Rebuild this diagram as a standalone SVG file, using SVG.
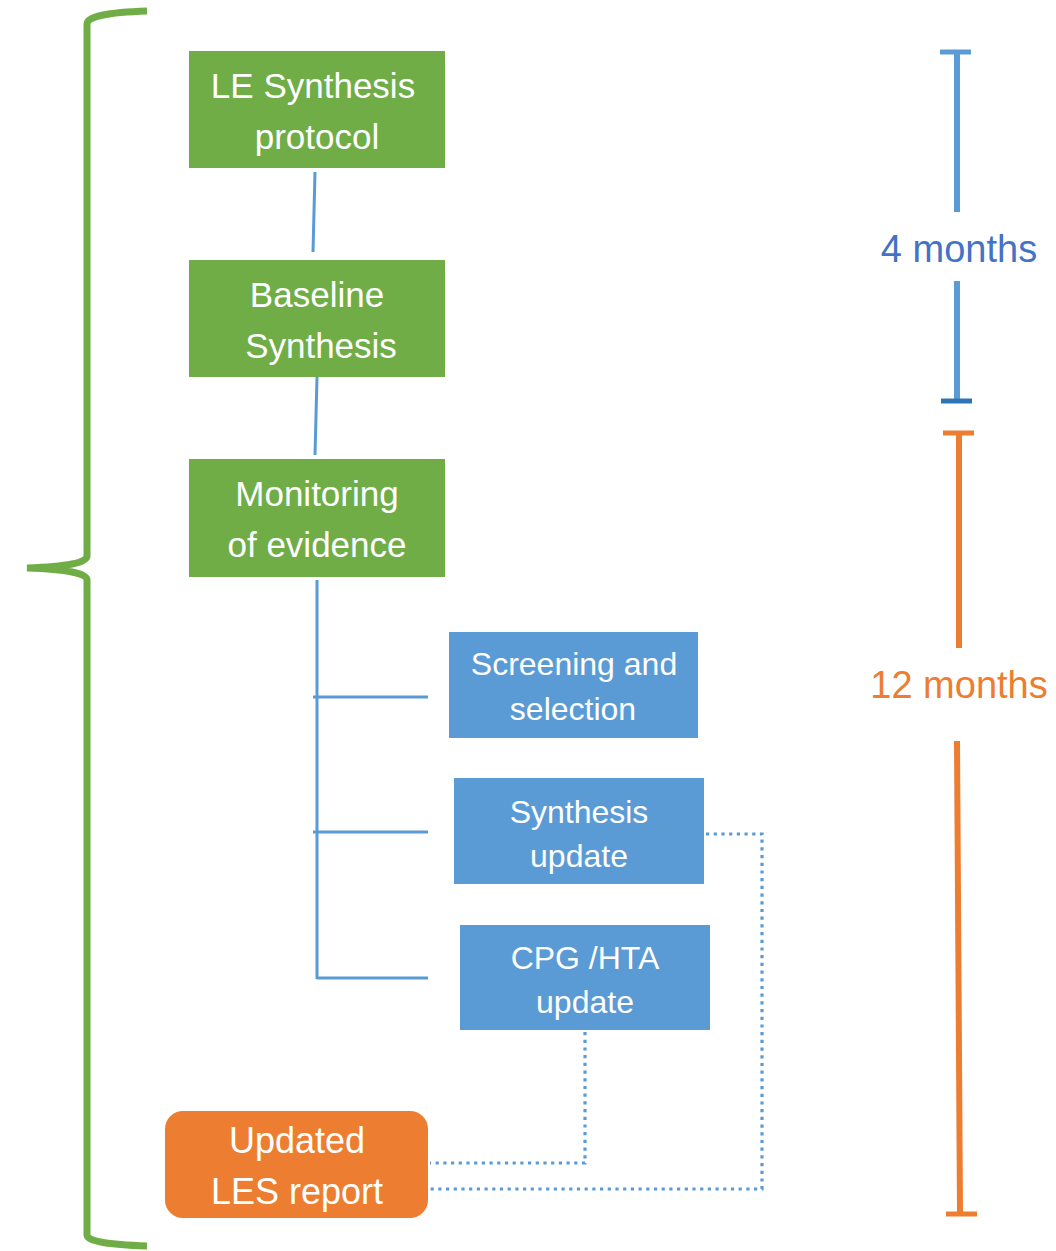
<svg xmlns="http://www.w3.org/2000/svg" width="1056" height="1251" viewBox="0 0 1056 1251">
<style>
.g{fill:#70AD47}
.b{fill:#5B9BD5}
.o{fill:#ED7D31}
.t{font-family:"Liberation Sans",Arial,sans-serif;fill:#fff;text-anchor:middle}
.tg{font-size:35px}
.tb{font-size:32px}
.to{font-size:36px}
.m{font-family:"Liberation Sans",Arial,sans-serif;font-size:38px;text-anchor:middle}
.c{stroke:#5B9BD5;stroke-width:3;fill:none}
.d{stroke:#5B9BD5;stroke-width:3.2;fill:none;stroke-dasharray:3.2 4.5}
</style>
<rect width="1056" height="1251" fill="#fff"/>
<g id="brace">
<path d="M147,11 Q87,13 87,24 L87,556 Q87,566 27,568 Q87,570 87,580 L87,1235 Q87,1244 147,1246" fill="none" stroke="#70AD47" stroke-width="7"/>
</g>
<g id="connectors">
<line class="c" x1="315" y1="172" x2="313" y2="252"/>
<line class="c" x1="317" y1="377" x2="315" y2="455"/>
<line class="c" x1="317" y1="580" x2="317" y2="979"/>
<line class="c" x1="313" y1="697" x2="428" y2="697"/>
<line class="c" x1="313" y1="832" x2="428" y2="832"/>
<line class="c" x1="317" y1="978" x2="428" y2="978"/>
<polyline class="d" points="706,834 762,834 762,1189 430,1189"/>
<polyline class="d" points="585,1032 585,1163 430,1163"/>
</g>
<g id="le-protocol">
<rect class="g" x="189" y="51" width="256" height="117"/>
<text class="t tg" x="313" y="98">LE Synthesis</text>
<text class="t tg" x="317" y="149">protocol</text>
</g>
<g id="baseline">
<rect class="g" x="189" y="260" width="256" height="117"/>
<text class="t tg" x="317" y="307">Baseline</text>
<text class="t tg" x="321" y="358">Synthesis</text>
</g>
<g id="monitoring">
<rect class="g" x="189" y="459" width="256" height="118"/>
<text class="t tg" x="317" y="506">Monitoring</text>
<text class="t tg" x="317" y="557">of evidence</text>
</g>
<g id="screening">
<rect class="b" x="449" y="632" width="249" height="106"/>
<text class="t tb" x="574" y="675">Screening and</text>
<text class="t tb" x="573" y="720">selection</text>
</g>
<g id="synthesis-update">
<rect class="b" x="454" y="778" width="250" height="106"/>
<text class="t tb" x="579" y="823">Synthesis</text>
<text class="t tb" x="579" y="867">update</text>
</g>
<g id="cpg-update">
<rect class="b" x="460" y="925" width="250" height="105"/>
<text class="t tb" x="585" y="969">CPG /HTA</text>
<text class="t tb" x="585" y="1013">update</text>
</g>
<g id="updated-report">
<rect class="o" x="165" y="1111" width="263" height="107" rx="18"/>
<text class="t to" x="297" y="1153">Updated</text>
<text class="t to" x="297" y="1204">LES report</text>
</g>
<g id="four-months">
<line x1="957" y1="52" x2="957" y2="212" stroke="#5B9BD5" stroke-width="6"/>
<line x1="957" y1="281" x2="957" y2="400" stroke="#5B9BD5" stroke-width="6"/>
<line x1="940" y1="52" x2="971" y2="52" stroke="#5B9BD5" stroke-width="5"/>
<line x1="941" y1="401" x2="972" y2="401" stroke="#2E75B6" stroke-width="5"/>
<text class="m" x="959" y="262" fill="#4472C4">4 months</text>
</g>
<g id="twelve-months">
<line x1="959" y1="432" x2="959" y2="648" stroke="#ED7D31" stroke-width="6"/>
<line x1="957" y1="741" x2="960" y2="1213" stroke="#ED7D31" stroke-width="6"/>
<line x1="943" y1="433" x2="974" y2="433" stroke="#ED7D31" stroke-width="5"/>
<line x1="946" y1="1214" x2="977" y2="1214" stroke="#ED7D31" stroke-width="5"/>
<text class="m" x="959" y="698" fill="#ED7D31">12 months</text>
</g>
</svg>
